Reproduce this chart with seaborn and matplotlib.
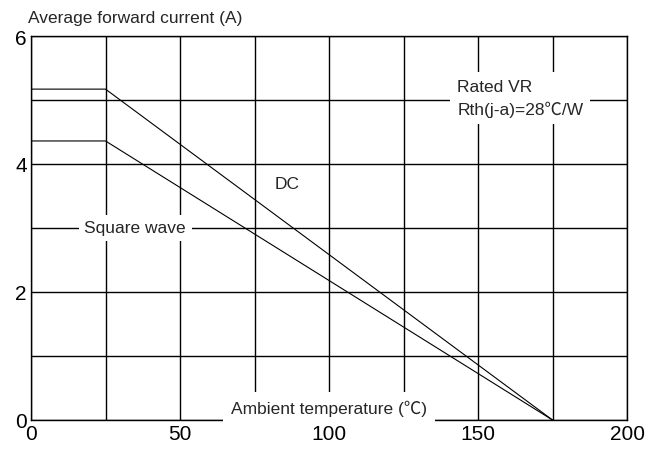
import matplotlib
matplotlib.use("Agg")
import matplotlib.pyplot as plt
import seaborn as sns
import pandas as pd

# derating curves: ambient temperature vs average forward current
temps = [0, 25, 175]
dc_current = [5.17, 5.17, 0.0]
square_current = [4.36, 4.36, 0.0]

x_ticks = [0, 50, 100, 150, 200]
y_ticks = [0, 2, 4, 6]

sns.set_theme(style="white")
plt.rcParams["font.family"] = ["Liberation Sans", "Noto Sans CJK SC", "DejaVu Sans"]

df = pd.DataFrame({
    "temp": temps * 2,
    "current": dc_current + square_current,
    "curve": ["DC"] * len(temps) + ["Square wave"] * len(temps),
})

fig = plt.figure(figsize=(6.52, 4.52), dpi=100)
ax = fig.add_axes([31 / 652, 1 - 421 / 452, 596 / 652, 384 / 452])

sns.lineplot(data=df, x="temp", y="current", units="curve", estimator=None,
             color="black", linewidth=0.8, ax=ax, legend=False)

ax.set_xlim(0, 200)
ax.set_ylim(0, 6)
ax.set_xticks(range(0, 201, 25))
ax.set_yticks(range(0, 7))
ax.set_xticklabels([str(t) if t in x_ticks else "" for t in range(0, 201, 25)])
ax.set_yticklabels([str(t) if t in y_ticks else "" for t in range(0, 7)])
ax.grid(True, color="black", linewidth=1.0)
ax.set_axisbelow(True)
ax.tick_params(length=0, labelsize=15, colors="black")
ax.tick_params(axis="y", pad=3)
ax.tick_params(axis="x", pad=3)
for s in ax.spines.values():
    s.set_color("black")
    s.set_linewidth(1.0)
ax.set_xlabel("")
ax.set_ylabel("")

fs = 12.5
ax.text(35, 3, "Square wave", fontsize=fs, ha="center", va="center",
        bbox=dict(facecolor="white", edgecolor="none", pad=4), zorder=3)
ax.text(86, 3.7, "DC", fontsize=fs, ha="center", va="center", zorder=3)
ax.text(143, 5.03, "Rated VR\nRth(j-a)=28℃/W", fontsize=fs, ha="left", va="center",
        linespacing=1.45, bbox=dict(facecolor="white", edgecolor="none", pad=5), zorder=3)
ax.text(100, 0.06, "Ambient temperature (℃)", fontsize=fs, ha="center", va="bottom",
        bbox=dict(facecolor="white", edgecolor="none", pad=6), zorder=3)

fig.text(28 / 652, 1 - 18 / 452, "Average forward current (A)", fontsize=fs,
         ha="left", va="center")

fig.savefig("out.png", dpi=100)
